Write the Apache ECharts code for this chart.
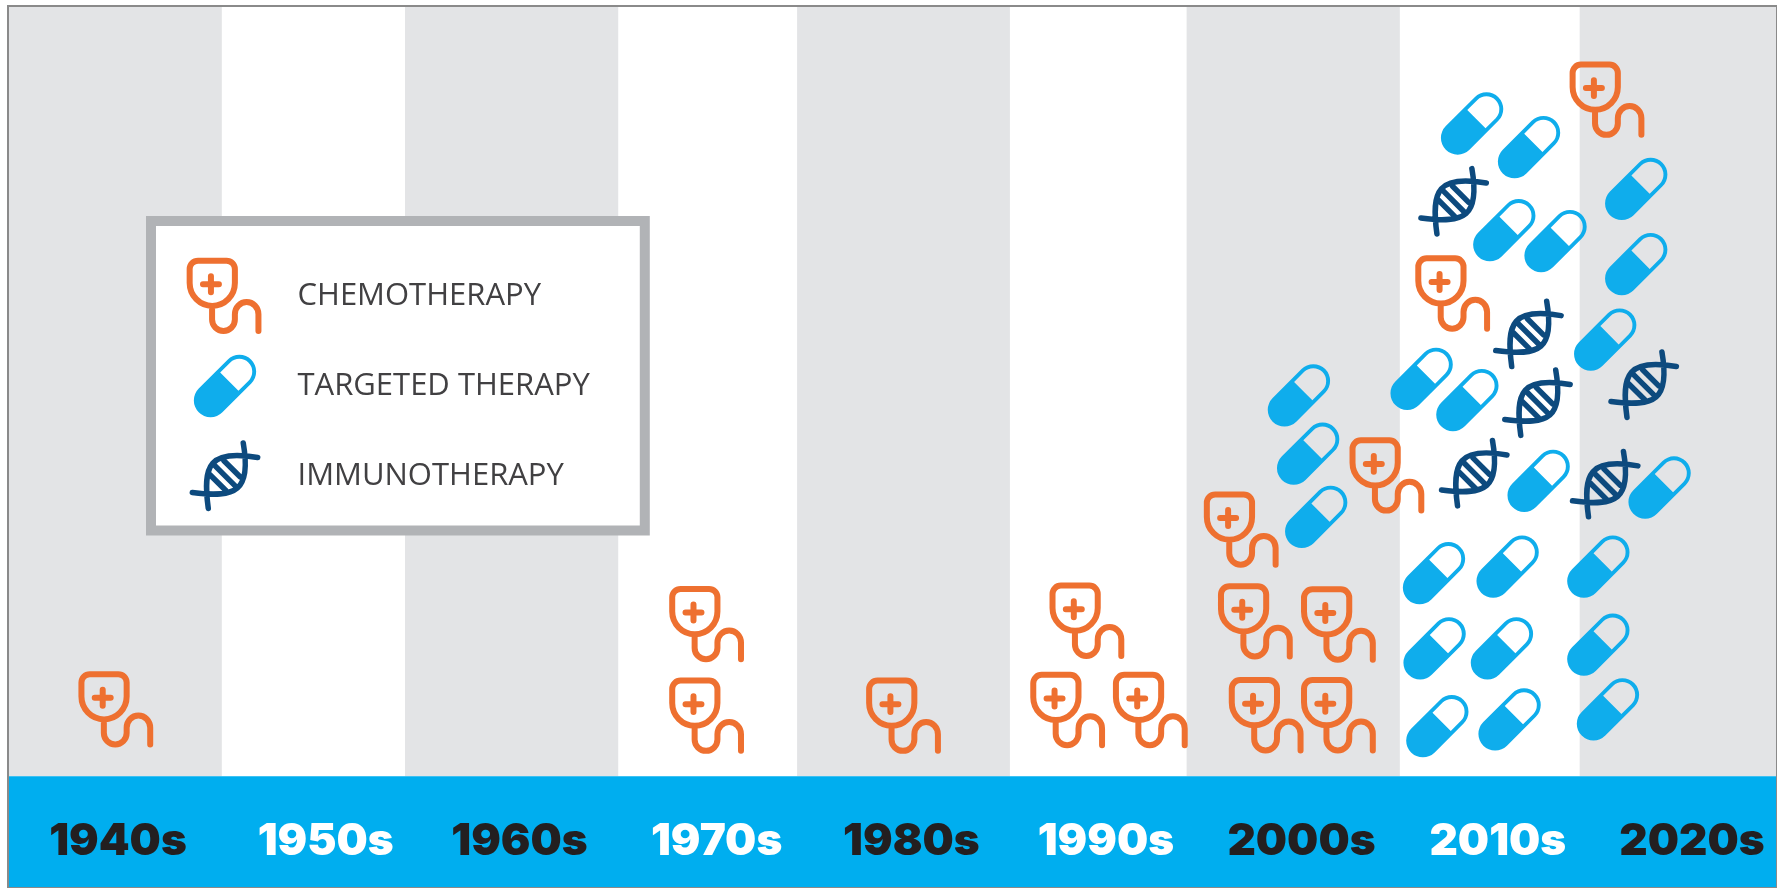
<!DOCTYPE html>
<html>
<head>
<meta charset="utf-8">
<script src="https://cdn.jsdelivr.net/npm/echarts@6/dist/echarts.min.js"></script>
<style>html,body{margin:0;padding:0;background:#fff}#c{width:1777px;height:888px}</style>
</head>
<body>
<div id="c"></div>
<script>
// Decade labels on the blue strip, and where each is centred along the time scale
const decades = ['1940s','1950s','1960s','1970s','1980s','1990s','2000s','2010s','2020s'];
const decadeCentres = [1945.60,1956.18,1966.05,1976.09,1986.01,1995.92,2005.88,2015.88,2025.77];
// Grey background stripes [from, to]
const greyFrom = [1940.05,1960.22,1980.19,2000.03,2020.05];
const greyTo   = [1950.89,1971.08,1991.03,2010.89,2030.1];
// Chemotherapy marks
const chemoX = [1945.54,1975.63,1975.63,1985.66,1995.00,1994.02,1998.23,2002.86,2003.58,2007.81,2004.13,2007.81,2010.28,2013.63,2021.49];
const chemoY = [0.867,0.784,1.973,0.784,2.017,0.858,0.858,3.200,2.009,1.968,0.790,0.790,3.903,6.265,8.781];
// Targeted therapy marks
const targetedX = [2005.75,2006.22,2006.63,2014.57,2017.47,2016.21,2018.82,2012.00,2014.33,2017.96,2012.63,2016.38,2012.66,2016.09,2012.80,2016.48,2022.93,2022.93,2021.35,2024.12,2021.00,2021.00,2021.49];
const targetedY = [4.945,4.188,3.368,8.475,8.168,7.090,6.948,5.160,4.884,3.836,2.637,2.722,1.661,1.661,0.651,0.738,7.625,6.650,5.670,3.749,2.722,1.709,0.870];
// Immunotherapy marks
const immunoX = [2013.63,2017.44,2017.90,2014.68,2023.31,2021.35];
const immunoY = [7.465,5.744,4.850,3.935,5.083,3.793];

const names = ['CHEMOTHERAPY','TARGETED THERAPY','IMMUNOTHERAPY'];
const ORANGE='#ee7030', BLUE='#0fadec', NAVY='#0d4a7e', STRIP='#00aeef', GREY='#e3e4e6', DARK='#231f20';

const box = 'M0 0 M100 100 ';
const chemoIcon = 'path://' + box +
  'M14.5 3.5 H52 A11 11 0 0 1 63 14.5 V33 A29.75 30 0 0 1 3.5 33 V14.5 A11 11 0 0 1 14.5 3.5 Z ' +
  'M21 34.5 H42 M31.5 24 V45 ' +
  'M33 63 V81 A15 15 0 0 0 63 81 V74 A15.5 16 0 0 1 94 74 V96';
const pillIcon = 'path://' + box +
  'M15.44 53.44 L53.44 15.44 A22 22 0 0 1 84.56 46.56 L46.56 84.56 A22 22 0 0 1 15.44 53.44 Z ' +
  'M43.64 32.32 L67.68 56.36 L81.02 43.02 A17 17 0 0 0 56.98 18.98 Z';
const dnaIcon = 'path://' + box +
  'M93 26 C30 15 20 35 28 93 M74 7 C85 70 65 80 7 72 ' +
  'M34 34 L66 66 M48.6 30.2 L69.8 51.4 M30.2 48.6 L51.4 69.8';

const zip = (xs, ys) => xs.map((x, i) => [x, ys[i]]);
const lineStyle = (c, w) => ({color:'rgba(0,0,0,0)', borderColor:c, borderWidth:w, borderCap:'round', borderJoin:'round', opacity:1});
const solidStyle = c => ({color:c, borderWidth:0, opacity:1});

const chart = echarts.init(document.getElementById('c'), null, {renderer:'canvas'});
chart.setOption({
  animation:false,
  backgroundColor:'#ffffff',
  grid:{left:8, right:-2, top:6, bottom:-2, show:true, borderColor:'#8a8a8a', borderWidth:2, backgroundColor:'transparent', z:2},
  xAxis:{
    type:'value', min:1940, max:2030.1, splitLine:{show:false}, z:6,
    axisLine:{show:false}, axisTick:{show:false},
    axisLabel:{
      show:true, inside:true, margin:46, verticalAlign:'middle', align:'center',
      customValues:decadeCentres, hideOverlap:false,
      fontFamily:'Inter', fontWeight:900, fontSize:44,
      formatter:(v)=>decades[decadeCentres.indexOf(v)],
      color:(v)=>decadeCentres.indexOf(typeof v==='number'?v:parseFloat(v))%2===0?DARK:'#ffffff'
    }
  },
  yAxis:{type:'value', min:-1.45, max:10, show:false, splitLine:{show:false}},
  legend:{
    left:151, top:221, orient:'vertical', align:'left',
    padding:[34,55,14,33], itemWidth:135, itemHeight:76, itemGap:11,
    backgroundColor:'#ffffff', borderColor:'#b1b3b6', borderWidth:10, borderRadius:0,
    selectedMode:false, z:10,
    textStyle:{fontFamily:'Open Sans', fontSize:31, color:'#414042'},
    data:[
      {name:names[0], icon:chemoIcon, itemStyle:lineStyle(ORANGE,6)},
      {name:names[1], icon:pillIcon, itemStyle:solidStyle(BLUE)},
      {name:names[2], icon:dnaIcon, itemStyle:lineStyle(NAVY,5.5)}
    ]
  },
  series:[
    {
      name:'bands', type:'scatter', data:[], silent:true, z:1,
      markArea:{
        silent:true,
        data:[
          ...greyFrom.map((f,i)=>[{xAxis:f, yAxis:0, itemStyle:{color:GREY, opacity:1}},{xAxis:greyTo[i], yAxis:10}]),
          [{xAxis:1940.05, yAxis:-1.45, itemStyle:{color:STRIP, opacity:1}},{xAxis:2030.1, yAxis:0}]
        ]
      }
    },
    {name:names[0], type:'scatter', z:3, symbol:chemoIcon, symbolSize:76, symbolKeepAspect:true, data:zip(chemoX,chemoY), itemStyle:lineStyle(ORANGE,6)},
    {name:names[1], type:'scatter', z:3, symbol:pillIcon, symbolSize:76, symbolKeepAspect:true, data:zip(targetedX,targetedY), itemStyle:solidStyle(BLUE)},
    {name:names[2], type:'scatter', z:3, symbol:dnaIcon, symbolSize:76, symbolKeepAspect:true, data:zip(immunoX,immunoY), itemStyle:lineStyle(NAVY,5.5)}
  ]
});
</script>
</body>
</html>
